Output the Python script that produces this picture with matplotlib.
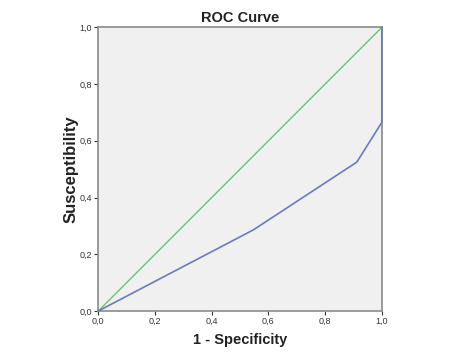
import matplotlib
matplotlib.use("Agg")
import matplotlib.pyplot as plt

plt.rcParams["font.family"] = ["Liberation Sans", "DejaVu Sans"]

# ROC curve points
fpr = [0.0, 0.547, 0.912, 1.0, 1.0]
tpr = [0.0, 0.286, 0.525, 0.665, 1.0]
ref_x = [0.0, 1.0]
ref_y = [0.0, 1.0]
ticks = [0.0, 0.2, 0.4, 0.6, 0.8, 1.0]
tick_labels = ["0,0", "0,2", "0,4", "0,6", "0,8", "1,0"]

fig = plt.figure(figsize=(4.5, 3.55), dpi=100)
ax = fig.add_axes([0.2185, 0.124, 0.63, 0.799])
ax.set_facecolor("#eff0ef")
ax.plot(ref_x, ref_y, color="#6cc27a", lw=1.0, clip_on=False, zorder=3)
ax.plot(fpr, tpr, color="#6a7bbf", lw=1.2, clip_on=False, zorder=4)
ax.set_xlim(0, 1)
ax.set_ylim(0, 1)
ax.set_xticks(ticks)
ax.set_xticklabels(tick_labels)
ax.set_yticks(ticks)
ax.set_yticklabels(tick_labels)
ax.tick_params(direction="out", length=3, width=0.8, colors="#333333",
               labelsize=6.5, pad=1.5)
for s in ax.spines.values():
    s.set_color("#8a8a8a")
    s.set_linewidth(1.2)
ax.set_title("ROC Curve", fontsize=10.5, fontweight="bold", color="#222222", pad=4)
ax.set_xlabel("1 - Specificity", fontsize=10.5, fontweight="bold", color="#222222", labelpad=5)
ax.set_ylabel("Susceptibility", fontsize=12, fontweight="bold", color="#222222", labelpad=1)
fig.savefig("out.png", dpi=100)
